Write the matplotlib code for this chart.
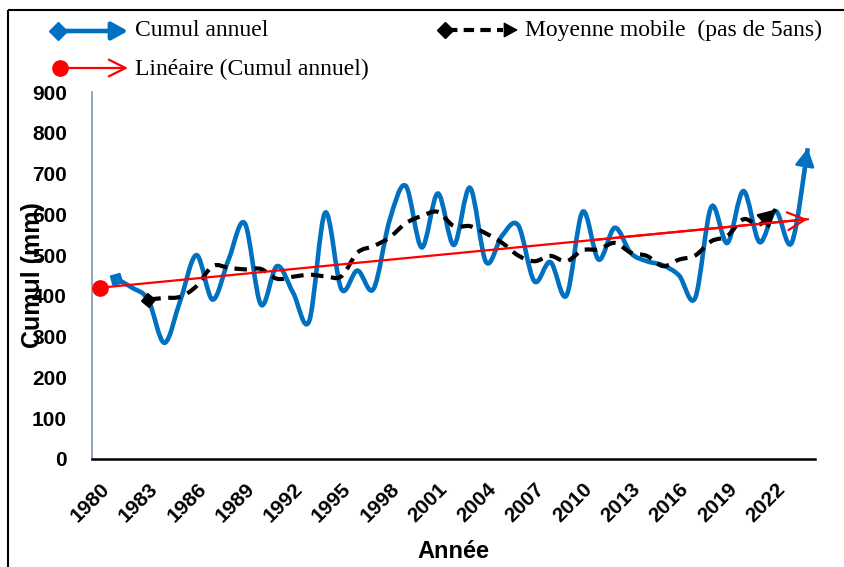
import numpy as np
import matplotlib.pyplot as plt
from matplotlib.path import Path
from matplotlib.patches import PathPatch, Rectangle

# Cumul annuel (mm), 1981-2024
years = list(range(1981, 2025))
cumul = [442, 420, 390, 285, 390, 500, 391, 490, 578, 379,
         473, 408, 338, 604, 417, 462, 417, 585, 670, 519,
         651, 525, 665, 483, 548, 573, 436, 483, 401, 606,
         489, 567, 505, 485, 475, 450, 395, 618, 530, 657,
         532, 608, 530, 762]

# Moyenne mobile (5 ans), 1983-2022
ma_years = list(range(1983, 2023))
ma_vals = [391, 395, 398, 424, 473, 469, 465, 466, 442, 447,
           452, 448, 448, 506, 522, 543, 578, 596, 606, 571,
           571, 553, 530, 499, 485, 498, 485, 512, 514, 530,
           506, 498, 473, 489, 499, 534, 547, 588, 575, 612]

# Linear trend end points
trend_years = [1980, 2024]
trend_vals = [420, 588]

xticks = list(range(1980, 2023, 3))
yticks = list(range(0, 901, 100))

BLUE = '#0070C0'
RED = '#FF0000'


def smooth_path(x, y):
    # Excel-like smoothed line: Catmull-Rom as cubic Bezier segments
    x = np.asarray(x, float)
    y = np.asarray(y, float)
    n = len(x)
    verts = [(x[0], y[0])]
    codes = [Path.MOVETO]
    for i in range(n - 1):
        i0 = max(i - 1, 0)
        i3 = min(i + 2, n - 1)
        c1 = (x[i] + (x[i + 1] - x[i0]) / 6, y[i] + (y[i + 1] - y[i0]) / 6)
        c2 = (x[i + 1] - (x[i3] - x[i]) / 6, y[i + 1] - (y[i3] - y[i]) / 6)
        verts += [c1, c2, (x[i + 1], y[i + 1])]
        codes += [Path.CURVE4] * 3
    return Path(verts, codes)


def end_head(ax, x, y, color, style, scale, lw=1):
    xe, ye = x[-1], y[-1]
    xs = xe - 0.3 * (x[-1] - x[-2])
    ys = ye - 0.3 * (y[-1] - y[-2])
    ax.annotate('', xy=(xe, ye), xytext=(xs, ys),
                arrowprops=dict(arrowstyle=style, mutation_scale=scale,
                                color=color, lw=lw, shrinkA=0, shrinkB=0))


def start_angle(ax, x, y):
    p = ax.transData.transform([(x[0], y[0]), (x[1], y[1])])
    return np.degrees(np.arctan2(p[1, 1] - p[0, 1], p[1, 0] - p[0, 0]))


fig = plt.figure(figsize=(8.45, 5.67), dpi=100)
ax = fig.add_axes([92 / 845, 1 - 459 / 567, (815 - 92) / 845, (459 - 92) / 567])
ax.set_xlim(1979.5, 2024.45)
ax.set_ylim(0, 900)

# Cumul annuel
ax.add_patch(PathPatch(smooth_path(years, cumul), fill=False, edgecolor=BLUE,
                       lw=3.3, capstyle='butt', zorder=3))
end_head(ax, years, cumul, BLUE, '-|>,head_length=0.4,head_width=0.22', 27, lw=2)
ang = start_angle(ax, years, cumul)
ax.plot(years[0], cumul[0], marker=(4, 0, ang), ms=10, color=BLUE, zorder=4)

# Moyenne mobile
ax.add_patch(PathPatch(smooth_path(ma_years, ma_vals), fill=False, edgecolor='black',
                       lw=3, linestyle=(0, (3, 1.8)), capstyle='butt', zorder=4))
end_head(ax, ma_years, ma_vals, 'black', '-|>,head_length=0.4,head_width=0.22', 25, lw=2)
ang = start_angle(ax, ma_years, ma_vals)
ax.plot(ma_years[0], ma_vals[0], marker=(4, 0, ang), ms=10, color='black', zorder=5)

# Linéaire
ax.plot(trend_years, trend_vals, color=RED, lw=1.6, zorder=6)
end_head(ax, trend_years, trend_vals, RED, '->,head_length=0.4,head_width=0.2', 32, lw=1.6)
ax.plot(trend_years[0], trend_vals[0], 'o', ms=11, color=RED, zorder=7)

ax.set_xticks(xticks)
ax.set_xticklabels([str(t) for t in xticks], rotation=45, ha='right', va='top',
                   rotation_mode='anchor', fontsize=15, fontweight='bold',
                   family='Liberation Sans')
ax.set_yticks(yticks)
ax.set_yticklabels([str(t) for t in yticks], fontsize=15, fontweight='bold',
                   family='Liberation Sans')
ax.tick_params(axis='x', length=0, pad=15)
ax.tick_params(axis='y', length=0, pad=18)
for s in ['top', 'right']:
    ax.spines[s].set_visible(False)
ax.spines['left'].set_color('#8496B0')
ax.spines['left'].set_linewidth(1.2)
ax.spines['bottom'].set_linewidth(1.8)

ax.set_xlabel('Année', fontsize=17, fontweight='bold', family='Liberation Sans')
ax.set_ylabel('Cumul (mm)', fontsize=18, fontweight='bold', family='Liberation Sans')
ax.yaxis.set_label_coords(-47 / 723, 0.5)
ax.xaxis.set_label_coords(0.5, -(540 - 459) / 367)

# overlay in pixel coordinates for legend and frame
ov = fig.add_axes([0, 0, 1, 1], zorder=10)
ov.set_xlim(0, 845)
ov.set_ylim(567, 0)
ov.axis('off')
ov.patch.set_alpha(0)
ov.add_patch(Rectangle((8, 10), 900, 600, fill=False, edgecolor='black', lw=1.5))

# legend: Cumul annuel
ov.annotate('', xy=(128, 31), xytext=(58, 31),
            arrowprops=dict(arrowstyle='-|>,head_length=0.4,head_width=0.22',
                            mutation_scale=24, color=BLUE, lw=3.3, shrinkA=0, shrinkB=0))
ov.plot(58, 31, marker='D', ms=9, color=BLUE)
ov.text(135, 30, 'Cumul annuel', fontsize=17, family='Liberation Serif', va='center')

# legend: Moyenne mobile
ov.plot([447, 503], [30, 30], color='black', lw=3, linestyle=(0, (2.5, 1.5)))
ov.annotate('', xy=(518, 30), xytext=(505, 30),
            arrowprops=dict(arrowstyle='-|>,head_length=0.4,head_width=0.22',
                            mutation_scale=22, color='black', lw=1, shrinkA=0, shrinkB=0))
ov.plot(445, 30, marker='D', ms=8.5, color='black')
ov.text(525, 30, 'Moyenne mobile  (pas de 5ans)', fontsize=17, family='Liberation Serif',
        va='center')

# legend: Linéaire
ov.annotate('', xy=(128, 68), xytext=(60, 68),
            arrowprops=dict(arrowstyle='->,head_length=0.4,head_width=0.2',
                            mutation_scale=30, color=RED, lw=1.6, shrinkA=0, shrinkB=0))
ov.plot(60, 68, 'o', ms=11, color=RED)
ov.text(135, 69, 'Linéaire (Cumul annuel)', fontsize=17, family='Liberation Serif',
        va='center')

fig.savefig('out.png', dpi=100)
